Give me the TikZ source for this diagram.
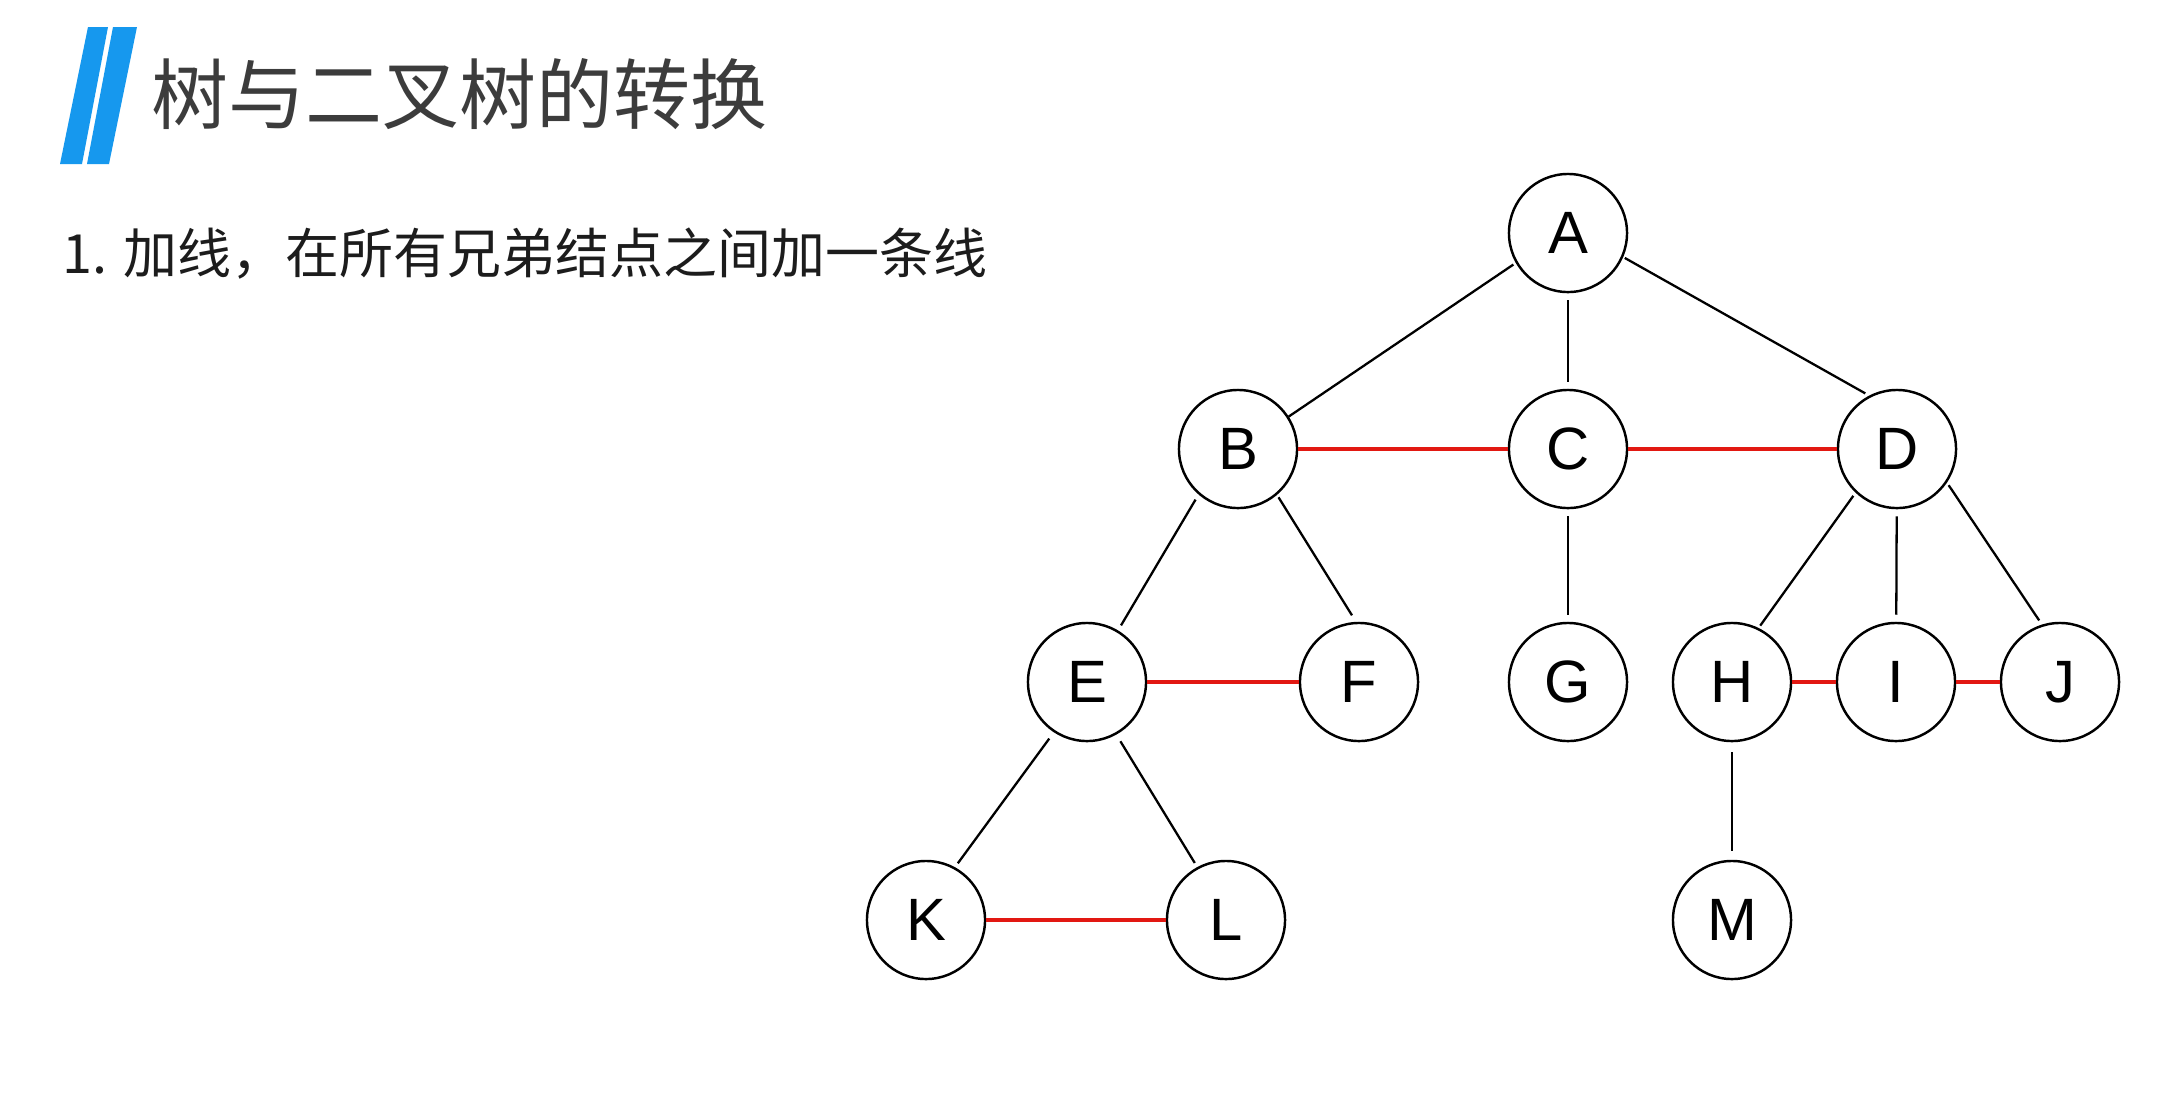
\documentclass[tikz,border=0pt]{standalone}
\usepackage{fontspec}
\usetikzlibrary{calc}
\setmainfont{Liberation Sans}
\newfontfamily\cjk{Noto Sans CJK SC}
\definecolor{barblue}{RGB}{22,152,238}
\definecolor{linered}{RGB}{226,24,18}
\definecolor{titlegray}{RGB}{60,60,60}
\definecolor{subgray}{RGB}{28,28,28}
\begin{document}
\begin{tikzpicture}[x=0.01cm,y=-0.01cm,
  tnode/.style={circle,draw=black,line width=0.7pt,minimum size=1.18cm,inner sep=0pt,fill=white,
    font=\fontsize{17pt}{20pt}\selectfont},
  edge/.style={draw=black,line width=0.65pt},
  vedge/.style={draw=black,line width=0.65pt,shorten <=0.07cm,shorten >=0.07cm},
  sib/.style={draw=linered,line width=1.1pt}]
\fill[white] (0,0) rectangle (2162,1102);
\useasboundingbox (0,0) rectangle (2162,1102);
% title bars
\fill[barblue] (88,27) -- (108,27) -- (82,164) -- (60,164) -- cycle;
\fill[barblue] (113,27) -- (137,27) -- (109,164) -- (87,164) -- cycle;
\node[anchor=west,inner sep=0pt,text=titlegray,font=\cjk\fontsize{21.9pt}{26pt}\selectfont] (title) at (151,94) {树与二叉树的转换};
\node[anchor=west,inner sep=0pt,text=subgray,font=\cjk\fontsize{15.35pt}{18pt}\selectfont] (sub) at (62,254) {1. 加线，在所有兄弟结点之间加一条线};
% nodes
\node[tnode] (A) at (1568,233) {A};
\node[tnode] (B) at (1238,449) {B};
\node[tnode] (C) at (1568,449) {C};
\node[tnode] (D) at (1897,449) {D};
\node[tnode] (E) at (1087,682) {E};
\node[tnode] (F) at (1359,682) {F};
\node[tnode] (G) at (1568,682) {G};
\node[tnode] (H) at (1732,682) {H};
\node[tnode] (I) at (1896,682) {I};
\node[tnode] (J) at (2060,682) {J};
\node[tnode] (K) at (926,920) {K};
\node[tnode] (L) at (1226,920) {L};
\node[tnode] (M) at (1732,920) {M};
% tree edges
\draw[edge] ($(A)+(210:0.63cm)$) -- ($(B)+(32.6:0.60cm)$);
\draw[vedge] (A) -- (C);
\draw[edge] ($(A)+(-23.7:0.62cm)$) -- ($(D)+(119.7:0.64cm)$);
\draw[edge] ($(B)+(-130:0.66cm)$) -- ($(E)+(59:0.66cm)$);
\draw[edge] ($(B)+(-50:0.63cm)$) -- ($(F)+(96:0.67cm)$);
\draw[vedge] (C) -- (G);
\draw[edge] ($(D)+(-133:0.64cm)$) -- ($(H)+(63.4:0.63cm)$);
\draw[vedge] (D) -- (I);
\draw[edge] ($(D)+(-35:0.63cm)$) -- ($(J)+(108.7:0.65cm)$);
\draw[edge] ($(E)+(-123.7:0.68cm)$) -- ($(K)+(60.7:0.65cm)$);
\draw[edge] ($(E)+(-60.6:0.68cm)$) -- ($(L)+(118.7:0.65cm)$);
\draw[edge,shorten <=0.1cm,shorten >=0.09cm] (H) -- (M);
% sibling lines
\draw[sib] (B) -- (C);
\draw[sib] (C) -- (D);
\draw[sib] (E) -- (F);
\draw[sib] (H) -- (I);
\draw[sib] (I) -- (J);
\draw[sib] (K) -- (L);
\end{tikzpicture}
\end{document}
